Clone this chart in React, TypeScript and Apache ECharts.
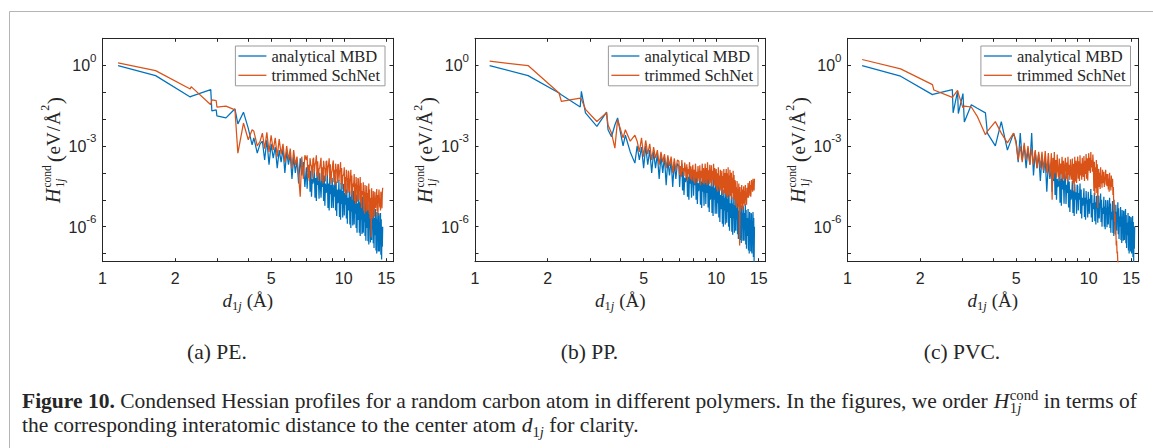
import React, { useEffect, useRef } from 'react';
import * as echarts from 'echarts';

// ---------------- data ----------------
const seriesNames = ['analytical MBD', 'trimmed SchNet'];
const panelLabels = ['(a) PE.', '(b) PP.', '(c) PVC.'];
const xLabelValues = [1, 2, 5, 10, 15];
const xTickValues = [2, 3, 4, 5, 6, 7, 8, 9, 10, 15];
const yLabelValues = [1e-6, 1e-3, 1];
const yTickValues = [1e-7, 1e-6, 1e-5, 1e-4, 1e-3, 1e-2, 1e-1, 1];

// (a) PE
const peDistance = [
  1.16, 1.66, 2.31, 2.33, 2.81, 2.84, 2.96, 2.98, 3.25, 3.54, 3.64, 3.84, 4.02, 4.17, 4.24, 4.38, 4.5,
  4.6, 4.7, 4.8, 4.9, 5.0, 5.1, 5.2, 5.3, 5.4, 5.5, 5.6, 5.7, 5.8, 5.9, 6.0, 6.1, 6.2, 6.3, 6.4, 6.5, 6.6, 6.7, 6.8, 6.9,
  7.0, 7.05, 7.1, 7.15, 7.2, 7.25, 7.3, 7.35, 7.4, 7.45,
  7.5, 7.55, 7.6, 7.65, 7.7, 7.75, 7.8, 7.85, 7.9, 7.95,
  8.0, 8.05, 8.1, 8.15, 8.2, 8.25, 8.3, 8.35, 8.4, 8.45,
  8.5, 8.55, 8.6, 8.65, 8.7, 8.75, 8.8, 8.85, 8.9, 8.95,
  9.0, 9.05, 9.1, 9.15, 9.2, 9.25, 9.3, 9.35, 9.4, 9.45,
  9.5, 9.55, 9.6, 9.65, 9.7, 9.75, 9.8, 9.85, 9.9, 9.95,
  10.0, 10.05, 10.1, 10.15, 10.2, 10.25, 10.3, 10.35, 10.4, 10.45,
  10.5, 10.55, 10.6, 10.65, 10.7, 10.75, 10.8, 10.85, 10.9, 10.95,
  11.0, 11.05, 11.1, 11.15, 11.2, 11.25, 11.3, 11.35, 11.4, 11.45,
  11.5, 11.55, 11.6, 11.65, 11.7, 11.75, 11.8, 11.85, 11.9, 11.95,
  12.0, 12.05, 12.1, 12.15, 12.2, 12.25, 12.3, 12.35, 12.4, 12.45,
  12.5, 12.55, 12.6, 12.65, 12.7, 12.75, 12.8, 12.85, 12.9, 12.95,
  13.0, 13.05, 13.1, 13.15, 13.2, 13.25, 13.3, 13.35, 13.4, 13.45,
  13.5, 13.55, 13.6, 13.65, 13.7, 13.75, 13.8, 13.85, 13.9, 13.95,
  14.0, 14.05, 14.1, 14.15, 14.2, 14.25, 14.3, 14.35, 14.4, 14.45,
  14.5,
];
const peMBD = [
  0.97, 0.41, 0.066, 0.07, 0.124, 0.02, 0.022, 0.013, 0.011, 0.024, 0.0066, 0.018, 0.0045, 0.0011, 0.002, 5.4e-4, 1.2e-3,
  1.5e-3, 3e-4, 1.7e-3, 2e-4, 1.2e-3, 3.5e-4, 9e-4, 1.5e-4, 7e-4, 2.5e-4,
  8e-4, 1e-4, 6e-4, 2e-4, 5e-4, 6e-5, 4e-4, 1e-4, 3e-4, 4e-5,
  3.5e-4, 8e-5, 2.5e-4, 3e-5,
  1.6e-4, 2.6e-5, 9e-5, 6.5e-5, 2e-4, 2e-5, 1.2e-4, 1.3e-5, 6e-5, 4e-5,
  5.4e-5, 1.4e-4, 1.2e-5, 6.4e-5, 9e-6, 1.1e-4, 3.6e-5, 5.6e-5, 1.1e-5, 1e-4,
  1e-4, 1.2e-5, 6e-5, 3e-5, 1.3e-4, 9e-6, 8e-5, 6e-6, 4e-5, 1.8e-5,
  2.4e-5, 9e-5, 5e-6, 4e-5, 4e-6, 7e-5, 1.6e-5, 3.5e-5, 5e-6, 6.5e-5,
  6.4e-5, 5e-6, 3.6e-5, 1.3e-5, 8e-5, 4e-6, 4.8e-5, 2.5e-6, 2.4e-5, 7.5e-6,
  1.1e-5, 5.4e-5, 2.3e-6, 2.4e-5, 1.8e-6, 4.2e-5, 7e-6, 2.1e-5, 2.2e-6, 3.9e-5,
  3.2e-5, 2.6e-6, 1.8e-5, 6.5e-6, 4e-5, 2e-6, 2.4e-5, 1.3e-6, 1.2e-5, 4e-6,
  5.4e-6, 2.9e-5, 1.2e-6, 1.3e-5, 9e-7, 2.2e-5, 3.6e-6, 1.1e-5, 1.1e-6, 2.1e-5,
  2e-5, 1.2e-6, 1.1e-5, 3e-6, 2.5e-5, 9e-7, 1.5e-5, 6e-7, 7.5e-6, 1.8e-6,
  2.7e-6, 1.8e-5, 6e-7, 8e-6, 4.5e-7, 1.4e-5, 1.8e-6, 7e-6, 5.4e-7, 1.3e-5,
  1.1e-5, 6e-7, 6.3e-6, 1.5e-6, 1.4e-5, 4.5e-7, 8.4e-6, 3e-7, 4.2e-6, 9e-7,
  1.3e-6, 9e-6, 2.9e-7, 4e-6, 2.2e-7, 7e-6, 9e-7, 3.5e-6, 2.6e-7, 6.5e-6,
  5.6e-6, 3.2e-7, 3.2e-6, 8e-7, 7e-6, 2.4e-7, 4.2e-6, 1.6e-7, 2.1e-6, 4.8e-7,
  6e-7, 4.5e-6, 1.3e-7, 2e-6, 1e-7, 3.5e-6, 4e-7, 1.8e-6, 1.2e-7, 3.2e-6,
  2.6e-6, 1.2e-7, 1.4e-6, 3e-7, 3.2e-6, 9e-8, 1.9e-6, 6e-8, 1e-6, 1.8e-7,
  1e-6,
];
const peSchNet = [
  1.23, 0.63, 0.13, 0.16, 0.034, 0.052, 0.048, 0.028, 0.03, 0.022, 5.4e-4, 0.0071, 1.7e-3, 4e-3, 3.5e-3, 1e-3, 1.5e-3,
  3e-3, 8e-4, 3.2e-3, 6e-4, 2.5e-3, 7e-4, 2e-3, 4e-4, 1.8e-3, 5e-4,
  1.2e-3, 2.5e-4, 1e-3, 3e-4, 8e-4, 1.5e-4, 7e-4, 2e-4, 4e-4, 8e-5,
  1.3e-5, 4e-4, 6e-5, 4.5e-4,
  3e-4, 4.5e-4, 6.5e-5, 2e-4, 5e-5, 3.5e-4, 2e-4, 1.8e-4, 6e-5, 3.2e-4,
  3.6e-4, 1e-4, 2e-4, 2.5e-4, 4.5e-4, 7.5e-5, 2.7e-4, 5e-5, 1.4e-4, 1.5e-4,
  2.4e-4, 3.6e-4, 5e-5, 1.6e-4, 4e-5, 2.8e-4, 1.6e-4, 1.4e-4, 4.8e-5, 2.6e-4,
  2.8e-4, 8e-5, 1.6e-4, 2e-4, 3.5e-4, 6e-5, 2.1e-4, 4e-5, 1e-4, 1.2e-4,
  2.1e-4, 2.9e-4, 4.5e-5, 1.3e-4, 3.5e-5, 2.2e-4, 1.4e-4, 1.1e-4, 4.2e-5, 2.1e-4,
  2e-4, 5e-5, 1.1e-4, 1.25e-4, 2.5e-4, 3.8e-5, 1.5e-4, 2.5e-5, 7.5e-5, 7.5e-5,
  9e-5, 1.6e-4, 2e-5, 7e-5, 1.5e-5, 1.3e-4, 6e-5, 6.3e-5, 1.8e-5, 1.2e-4,
  1e-4, 2e-5, 6e-5, 5e-5, 1.3e-4, 1.5e-5, 8e-5, 1e-5, 4e-5, 3e-5,
  4.2e-5, 9e-5, 9e-6, 4e-5, 7e-6, 7e-5, 2.8e-5, 3.5e-5, 8.4e-6, 6.5e-5,
  5.6e-5, 1e-5, 3.2e-5, 2.5e-5, 7e-5, 7.5e-6, 4.2e-5, 5e-6, 2.1e-5, 1.5e-5,
  1.8e-5, 4.5e-5, 3.9e-6, 2e-5, 3e-6, 3.5e-5, 1.2e-5, 1.8e-5, 3.6e-6, 3.3e-5,
  3.2e-5, 4e-6, 1.8e-5, 1e-5, 4e-5, 3e-6, 2.4e-5, 2e-6, 1.2e-5, 6e-6,
  4e-7, 2.7e-5, 2.6e-6, 1.2e-5, 2e-6, 2.1e-5, 8e-6, 1e-5, 2.4e-6, 2e-5,
  2e-5, 5e-6, 1.1e-5, 1.2e-5, 2.5e-5, 3.8e-6, 1.5e-5, 2.5e-6, 7.5e-6, 7.5e-6,
  2.4e-5, 2.5e-5, 5.2e-6, 1.1e-5, 4e-6, 2e-5, 1.6e-5, 1e-5, 4.8e-6, 1.8e-5,
  2.8e-5,
];

// (b) PP
const ppDistance = [
  1.15, 1.66, 2.23, 2.28, 2.73, 2.76, 2.87, 3.2, 3.51, 3.56, 3.68, 3.8, 3.9, 4.11, 4.2, 4.4, 4.6,
  4.7, 4.8, 4.9, 5.0, 5.1, 5.2, 5.3, 5.4, 5.5, 5.6, 5.7, 5.8, 5.9, 6.0, 6.1, 6.2, 6.3, 6.4, 6.5, 6.6, 6.7, 6.8, 6.9,
  7.0, 7.05, 7.1, 7.15, 7.2, 7.25, 7.3, 7.35, 7.4, 7.45,
  7.5, 7.55, 7.6, 7.65, 7.7, 7.75, 7.8, 7.85, 7.9, 7.95,
  8.0, 8.05, 8.1, 8.15, 8.2, 8.25, 8.3, 8.35, 8.4, 8.45,
  8.5, 8.55, 8.6, 8.65, 8.7, 8.75, 8.8, 8.85, 8.9, 8.95,
  9.0, 9.05, 9.1, 9.15, 9.2, 9.25, 9.3, 9.35, 9.4, 9.45,
  9.5, 9.55, 9.6, 9.65, 9.7, 9.75, 9.8, 9.85, 9.9, 9.95,
  10.0, 10.05, 10.1, 10.15, 10.2, 10.25, 10.3, 10.35, 10.4, 10.45,
  10.5, 10.55, 10.6, 10.65, 10.7, 10.75, 10.8, 10.85, 10.9, 10.95,
  11.0, 11.05, 11.1, 11.15, 11.2, 11.25, 11.3, 11.35, 11.4, 11.45,
  11.5, 11.55, 11.6, 11.65, 11.7, 11.75, 11.8, 11.85, 11.9, 11.95,
  12.0, 12.05, 12.1, 12.15, 12.2, 12.25, 12.3, 12.35, 12.4, 12.45,
  12.5, 12.55, 12.6, 12.65, 12.7, 12.75, 12.8, 12.85, 12.9, 12.95,
  13.0, 13.05, 13.1, 13.15, 13.2, 13.25, 13.3, 13.35, 13.4, 13.45,
  13.5, 13.55, 13.6, 13.65, 13.7, 13.75, 13.8, 13.85, 13.9, 13.95,
  14.0, 14.05, 14.1, 14.15, 14.2, 14.25, 14.3, 14.35, 14.4,
];
const ppMBD = [
  0.97, 0.41, 0.093, 0.08, 0.028, 0.107, 0.017, 0.0053, 0.018, 0.004, 0.0022, 0.006, 0.011, 0.001, 0.0025, 6e-4, 2.3e-4,
  1e-3, 3e-4, 9e-4, 1.5e-4, 1e-3, 2e-4, 7e-4, 1e-4, 6e-4, 1.5e-4,
  5e-4, 6e-5, 4.5e-4, 1e-4, 4e-4, 3.5e-5, 3e-4, 8e-5, 3e-4, 3e-5,
  2.5e-4, 6e-5, 2.2e-4,
  1.8e-4, 3e-5, 1e-4, 7.5e-5, 2.2e-4, 2.2e-5, 1.3e-4, 1.5e-5, 6.6e-5, 4.5e-5,
  6e-5, 1.6e-4, 1.3e-5, 7.2e-5, 1e-5, 1.3e-4, 4e-5, 6.3e-5, 1.2e-5, 1.2e-4,
  1.1e-4, 1.4e-5, 6.3e-5, 3.5e-5, 1.4e-4, 1e-5, 8.4e-5, 7e-6, 4.2e-5, 2.1e-5,
  3e-5, 1.1e-4, 6.5e-6, 4.8e-5, 5e-6, 8.4e-5, 2e-5, 4.2e-5, 6e-6, 7.8e-5,
  8.8e-5, 7e-6, 5e-5, 1.8e-5, 1.1e-4, 5.2e-6, 6.6e-5, 3.5e-6, 3.3e-5, 1e-5,
  1.5e-5, 7.2e-5, 3.2e-6, 3.2e-5, 2.5e-6, 5.6e-5, 1e-5, 2.8e-5, 3e-6, 5.2e-5,
  4e-5, 3e-6, 2.2e-5, 7.5e-6, 5e-5, 2.2e-6, 3e-5, 1.5e-6, 1.5e-5, 4.5e-6,
  6e-6, 3.2e-5, 1.3e-6, 1.4e-5, 1e-6, 2.4e-5, 4e-6, 1.2e-5, 1.2e-6, 2.3e-5,
  2e-5, 1.4e-6, 1.1e-5, 3.5e-6, 2.5e-5, 1e-6, 1.5e-5, 7e-7, 7.5e-6, 2.1e-6,
  3e-6, 1.6e-5, 6.5e-7, 7.2e-6, 5e-7, 1.3e-5, 2e-6, 6.3e-6, 6e-7, 1.2e-5,
  1e-5, 7e-7, 5.8e-6, 1.8e-6, 1.3e-5, 5.2e-7, 7.8e-6, 3.5e-7, 3.9e-6, 1e-6,
  1.5e-6, 8e-6, 3.2e-7, 3.6e-6, 2.5e-7, 6.3e-6, 1e-6, 3.2e-6, 3e-7, 5.8e-6,
  5.6e-6, 3e-7, 3.2e-6, 7.5e-7, 7e-6, 2.2e-7, 4.2e-6, 1.5e-7, 2.1e-6, 4.5e-7,
  6e-7, 4.5e-6, 1.3e-7, 2e-6, 1e-7, 3.5e-6, 4e-7, 1.8e-6, 1.2e-7, 3.2e-6,
  2.8e-6, 1e-7, 1.6e-6, 2.5e-7, 3.5e-6, 7.5e-8, 2.1e-6, 5e-8, 1e-6,
];
const ppSchNet = [
  1.41, 0.97, 0.093, 0.045, 0.06, 0.055, 0.023, 0.0081, 0.017, 0.006, 0.003, 8.3e-4, 0.0094, 0.002, 0.004, 1.5e-3, 2.5e-3,
  1.5e-3, 6e-4, 2e-3, 4e-4, 1.6e-3, 5e-4, 1.2e-3, 3e-4, 9e-4, 3.5e-4,
  7e-4, 2e-4, 6e-4, 2.5e-4, 5e-4, 1.5e-4, 4.5e-4, 1.8e-4, 4e-4, 1e-4,
  3.5e-4, 1.2e-4, 3e-4,
  2.7e-4, 8.4e-5, 1.8e-4, 7e-5, 3e-4, 1.1e-4, 1.5e-4, 7.7e-5, 2.4e-4, 1.4e-4,
  7e-5, 2.1e-4, 5e-5, 1.4e-4, 9e-5, 2.5e-4, 6e-5, 1.75e-4, 5.2e-5, 1.1e-4,
  2e-4, 4.8e-5, 1.3e-4, 4e-5, 2.2e-4, 6.4e-5, 1.1e-4, 4.4e-5, 1.8e-4, 8e-5,
  4.9e-5, 1.9e-4, 3.5e-5, 1.2e-4, 6.3e-5, 2.2e-4, 4.2e-5, 1.5e-4, 3.7e-5, 1e-4,
  2.2e-4, 4.2e-5, 1.5e-4, 3.5e-5, 2.5e-4, 5.6e-5, 1.25e-4, 3.9e-5, 2e-4, 7e-5,
  4.2e-5, 1.9e-4, 3e-5, 1.2e-4, 5.4e-5, 2.2e-4, 3.6e-5, 1.5e-4, 3.2e-5, 1e-4,
  1.4e-4, 2.4e-5, 9.6e-5, 2e-5, 1.6e-4, 3.2e-5, 8e-5, 2.2e-5, 1.3e-4, 4e-5,
  2.1e-5, 1.2e-4, 1.5e-5, 7.7e-5, 2.7e-5, 1.4e-4, 1.8e-5, 9.8e-5, 1.6e-5, 6.3e-5,
  1.4e-4, 1.4e-5, 9.6e-5, 1.2e-5, 1.6e-4, 1.9e-5, 8e-5, 1.3e-5, 1.3e-4, 2.4e-5,
  1.4e-5, 1e-4, 1e-5, 6.6e-5, 1.8e-5, 1.2e-4, 1.2e-5, 8.4e-5, 1e-5, 5.4e-5,
  4.5e-5, 6e-6, 3e-5, 5e-6, 5e-5, 8e-6, 2.5e-5, 5.5e-6, 4e-5, 1e-5,
  2e-7, 3e-5, 4e-6, 1.9e-5, 7.2e-6, 3.5e-5, 4.8e-6, 2.4e-5, 4.2e-6, 1.6e-5,
  3.2e-5, 7.2e-6, 2.1e-5, 6e-6, 3.5e-5, 9.6e-6, 1.8e-5, 6.6e-6, 2.8e-5, 1.2e-5,
  1.7e-5, 4.2e-5, 1.2e-5, 2.8e-5, 2.2e-5, 5e-5, 1.4e-5, 3.5e-5, 1.3e-5, 2.2e-5,
  5.4e-5, 2.4e-5, 3.6e-5, 2e-5, 6e-5, 3.2e-5, 3e-5, 2.2e-5, 6e-5,
];

// (c) PVC
const pvcDistance = [
  1.15, 1.66, 2.25, 2.28, 2.72, 2.74, 2.86, 2.88, 3.01, 3.05, 3.26, 3.45, 3.73, 3.8, 4.1, 4.34, 4.6, 4.88,
  5.0, 5.1, 5.2, 5.3, 5.4, 5.5, 5.6, 5.7, 5.8, 5.9, 6.0, 6.1, 6.2, 6.3, 6.4, 6.5, 6.6, 6.7, 6.8, 6.9,
  7.0, 7.05, 7.1, 7.15, 7.2, 7.25, 7.3, 7.35, 7.4, 7.45,
  7.5, 7.55, 7.6, 7.65, 7.7, 7.75, 7.8, 7.85, 7.9, 7.95,
  8.0, 8.05, 8.1, 8.15, 8.2, 8.25, 8.3, 8.35, 8.4, 8.45,
  8.5, 8.55, 8.6, 8.65, 8.7, 8.75, 8.8, 8.85, 8.9, 8.95,
  9.0, 9.05, 9.1, 9.15, 9.2, 9.25, 9.3, 9.35, 9.4, 9.45,
  9.5, 9.55, 9.6, 9.65, 9.7, 9.75, 9.8, 9.85, 9.9, 9.95,
  10.0, 10.05, 10.1, 10.15, 10.2, 10.25, 10.3, 10.35, 10.4, 10.45,
  10.5, 10.55, 10.6, 10.65, 10.7, 10.75, 10.8, 10.85, 10.9, 10.95,
  11.0, 11.05, 11.1, 11.15, 11.2, 11.25, 11.3, 11.35, 11.4, 11.45,
  11.5, 11.55, 11.6, 11.65, 11.7, 11.75, 11.8, 11.85, 11.9, 11.95,
  12.0, 12.05, 12.1, 12.15, 12.2, 12.25, 12.3, 12.35, 12.4, 12.45,
  12.5, 12.55, 12.6, 12.65, 12.7, 12.75, 12.8, 12.85, 12.9, 12.95,
  13.0, 13.05, 13.1, 13.15, 13.2, 13.25, 13.3, 13.35, 13.4, 13.45,
  13.5, 13.55, 13.6, 13.65, 13.7, 13.75, 13.8, 13.85, 13.9, 13.95,
  14.0, 14.05, 14.1, 14.15, 14.2, 14.25, 14.3, 14.35, 14.4, 14.45,
  14.5, 14.55, 14.6, 14.65, 14.7, 14.75, 14.8, 14.85, 14.9, 14.95,
  15.0, 15.05, 15.1, 15.15, 15.2, 15.25, 15.3, 15.35, 15.4, 15.45,
  15.5,
];
const pvcMBD = [
  0.97, 0.39, 0.081, 0.085, 0.124, 0.017, 0.11, 0.016, 0.088, 0.0077, 0.034, 0.025, 0.017, 0.003, 0.001, 0.008, 7e-4, 3e-3,
  1.5e-3, 2.5e-4, 3e-3, 3e-4, 1e-3, 1.5e-4, 8e-4, 2e-4, 3e-3, 8e-5,
  6e-4, 1.5e-4, 5e-4, 5e-5, 4e-4, 1e-4, 3.5e-4, 2e-5, 2.5e-4, 6e-5,
  1.6e-4, 2e-5, 9e-5, 5e-5, 2e-4, 1.5e-5, 1.2e-4, 1e-5, 6e-5, 3e-5,
  3.6e-5, 1.35e-4, 7.8e-6, 6e-5, 6e-6, 1e-4, 2.4e-5, 5.2e-5, 7.2e-6, 9.8e-5,
  6.4e-5, 7e-6, 3.6e-5, 1.8e-5, 8e-5, 5.2e-6, 4.8e-5, 3.5e-6, 2.4e-5, 1e-5,
  1.5e-5, 5e-5, 3.2e-6, 2.2e-5, 2.5e-6, 3.8e-5, 1e-5, 1.9e-5, 3e-6, 3.6e-5,
  3.2e-5, 4e-6, 1.8e-5, 1e-5, 4e-5, 3e-6, 2.4e-5, 2e-6, 1.2e-5, 6e-6,
  1.1e-5, 2.7e-5, 2.3e-6, 1.2e-5, 1.8e-6, 2.1e-5, 7.2e-6, 1e-5, 2.2e-6, 2e-5,
  2e-5, 3e-6, 1.1e-5, 7.5e-6, 2.5e-5, 2.2e-6, 1.5e-5, 1.5e-6, 7.5e-6, 4.5e-6,
  7.2e-6, 1.8e-5, 1.6e-6, 8e-6, 1.2e-6, 1.4e-5, 4.8e-6, 7e-6, 1.4e-6, 1.3e-5,
  1.4e-5, 2e-6, 7.6e-6, 5e-6, 1.7e-5, 1.5e-6, 1e-5, 1e-6, 5e-6, 3e-6,
  4.8e-6, 1.3e-5, 1e-6, 5.6e-6, 8e-7, 9.8e-6, 3.2e-6, 4.9e-6, 9.6e-7, 9e-6,
  9.6e-6, 1.2e-6, 5.4e-6, 3e-6, 1.2e-5, 9e-7, 7.2e-6, 6e-7, 3.6e-6, 1.8e-6,
  2.7e-6, 9e-6, 5.8e-7, 4e-6, 4.5e-7, 7e-6, 1.8e-6, 3.5e-6, 5.4e-7, 6.5e-6,
  6.4e-6, 7e-7, 3.6e-6, 1.8e-6, 8e-6, 5.2e-7, 4.8e-6, 3.5e-7, 2.4e-6, 1e-6,
  1.5e-6, 5.4e-6, 3.2e-7, 2.4e-6, 2.5e-7, 4.2e-6, 1e-6, 2.1e-6, 3e-7, 3.9e-6,
  3.6e-6, 3.2e-7, 2e-6, 8e-7, 4.5e-6, 2.4e-7, 2.7e-6, 1.6e-7, 1.4e-6, 4.8e-7,
  6e-7, 3.2e-6, 1.3e-7, 1.4e-6, 1e-7, 2.5e-6, 4e-7, 1.2e-6, 1.2e-7, 2.3e-6,
  2e-6, 1e-7, 1.1e-6, 2.5e-7, 2.5e-6, 7.5e-8, 1.5e-6, 5e-8, 7.5e-7, 1.5e-7,
  1e-6,
];
const pvcSchNet = [
  1.63, 0.73, 0.19, 0.12, 0.064, 0.07, 0.115, 0.09, 0.026, 0.03, 0.028, 0.0126, 2.6e-3, 3.5e-3, 8e-3, 3e-3, 1.3e-3, 3e-3,
  1.2e-3, 3e-4, 1e-3, 2.5e-4, 1.3e-3, 3e-4, 1e-3, 2e-4, 8e-4, 2e-4,
  7e-4, 1.5e-4, 6e-4, 1.5e-4, 6e-4, 1.2e-4, 6.5e-4, 1e-4, 5.5e-4, 8e-5,
  5.4e-4, 1e-5, 3.6e-4, 6e-5, 6e-4, 9.6e-5, 3e-4, 6.6e-5, 4.8e-4, 1.2e-4,
  7e-5, 3.4e-4, 5e-5, 2.2e-4, 9e-5, 4e-4, 6e-5, 2.8e-4, 5.2e-5, 1.8e-4,
  3.6e-4, 6e-5, 2.4e-4, 5e-5, 4e-4, 8e-5, 2e-4, 5.5e-5, 3.2e-4, 1e-4,
  5.6e-5, 3.4e-4, 4e-5, 2.2e-4, 2e-5, 4e-4, 4.8e-5, 2.8e-4, 4.2e-5, 1.8e-4,
  4e-4, 6e-5, 2.7e-4, 5e-5, 4.5e-4, 8e-5, 2.2e-4, 5.5e-5, 3.6e-4, 1e-4,
  7e-5, 4.2e-4, 5e-5, 2.8e-4, 9e-5, 5e-4, 6e-5, 3.5e-4, 5.2e-5, 2.2e-4,
  5.4e-4, 1.2e-4, 3.6e-4, 1e-4, 6e-4, 1.6e-4, 3e-4, 1.1e-4, 4.8e-4, 2e-4,
  2.1e-5, 2.6e-4, 1.5e-5, 1.6e-4, 2.7e-5, 3e-4, 1.8e-5, 2.1e-4, 5e-6, 1.3e-4,
  1.4e-4, 3e-5, 1e-4, 2.5e-5, 1.6e-4, 4e-5, 8e-5, 2.8e-5, 1.3e-4, 5e-5,
  4.2e-5, 1.1e-4, 3e-5, 7e-5, 5.4e-5, 1.3e-4, 3.6e-5, 9e-5, 3.2e-5, 6e-5,
  9e-5, 2.4e-5, 6e-5, 2e-5, 1e-4, 3.2e-5, 5e-5, 2.2e-5, 8e-5, 4e-5,
  3e-5, 6e-5, 1.5e-5, 3e-5, 4e-6, 1e-5, 1.5e-6, 3e-6, 5e-7, 8e-7,
  2e-7, 3e-7, 1e-7, 1.2e-7, 4e-8, 5e-8, 1e-8,
];

const panels = [
  { dist: peDistance, mbd: peMBD, schnet: peSchNet },
  { dist: ppDistance, mbd: ppMBD, schnet: ppSchNet },
  { dist: pvcDistance, mbd: pvcMBD, schnet: pvcSchNet },
];

// ---------------- layout / style ----------------
const BLUE = '#0072BD';
const ORANGE = '#D95319';
const INK = '#262626';
const SANS = '"Liberation Sans", Arial, sans-serif';
const SERIF = '"Liberation Serif", "Times New Roman", serif';
const GRID_LEFT = [102.5, 475, 847.5];
const GRID_TOP = 38.3;
const GRID_W = 290.5;
const GRID_H = 223.4;
const LEGEND_RIGHT = [768, 395, 22.5];
const CAPTION_CENTER = [217, 589.5, 962];
const LINE_W = 1.25;

type Part = { t: string; size: number; italic?: boolean; bold?: boolean };
type Seg = { parts: Part[]; dy?: number; gap?: number } | { stack: { parts: Part[]; dy: number }[]; gap?: number };

let mctx: CanvasRenderingContext2D | null = null;
function fontStr(p: Part, k: number) {
  return `${p.italic ? 'italic ' : ''}${p.bold ? 'bold ' : ''}${(p.size * k).toFixed(2)}px ${SERIF}`;
}
function measure(p: Part, k: number) {
  if (!mctx) mctx = document.createElement('canvas').getContext('2d');
  mctx!.font = fontStr(p, k);
  return mctx!.measureText(p.t).width;
}
function textEl(p: Part, k: number, x: number, baseline: number) {
  const size = p.size * k;
  return {
    type: 'text',
    x,
    y: baseline - 0.34 * size,
    silent: true,
    style: { text: p.t, font: fontStr(p, k), fill: INK, textAlign: 'left', textVerticalAlign: 'middle' },
  };
}
function layoutRun(segs: Seg[], k: number, baseline: number) {
  const els: any[] = [];
  let x = 0;
  for (const s of segs) {
    if ('stack' in s) {
      let w = 0;
      for (const row of s.stack) {
        let rx = x;
        for (const p of row.parts) {
          els.push(textEl(p, k, rx, baseline + row.dy * k));
          rx += measure(p, k);
        }
        w = Math.max(w, rx - x);
      }
      x += w;
    } else {
      for (const p of s.parts) {
        els.push(textEl(p, k, x, baseline + (s.dy || 0) * k));
        x += measure(p, k);
      }
    }
    x += (s.gap || 0) * k;
  }
  return { els, width: x };
}
function shift(els: any[], dx: number) {
  els.forEach((e) => (e.x += dx));
  return els;
}

function buildGraphics() {
  const g: any[] = [];
  g.push({ type: 'line', silent: true, shape: { x1: 9.5, y1: 11.5, x2: 1153, y2: 11.5 }, style: { stroke: '#b4b4b4', lineWidth: 1 } });
  g.push({ type: 'line', silent: true, shape: { x1: 9.5, y1: 11.5, x2: 9.5, y2: 448 }, style: { stroke: '#b4b4b4', lineWidth: 1 } });

  for (let i = 0; i < 3; i++) {
    const cx = GRID_LEFT[i] + GRID_W / 2;
    const xn = layoutRun(
      [
        { parts: [{ t: 'd', size: 19, italic: true }] },
        { parts: [{ t: '1', size: 12.5 }, { t: 'j', size: 12.5, italic: true }], dy: 3.5, gap: 5 },
        { parts: [{ t: '(', size: 19 }, { t: 'Å', size: 19 }, { t: ')', size: 19 }] },
      ],
      1,
      307
    );
    g.push(...shift(xn.els, cx - xn.width / 2));
    const yn = layoutRun(
      [
        { parts: [{ t: 'H', size: 20, italic: true }], gap: 1 },
        {
          stack: [
            { parts: [{ t: 'cond', size: 11.5 }], dy: -8.5 },
            { parts: [{ t: '1', size: 11.5 }, { t: 'j', size: 11.5, italic: true }], dy: 4 },
          ],
          gap: 3,
        },
        { parts: [{ t: '(', size: 22 }], dy: 2.5, gap: 0.5 },
        { parts: [{ t: 'eV', size: 19 }], gap: 1 },
        { parts: [{ t: '/', size: 19 }], gap: 1 },
        { parts: [{ t: 'Å', size: 19 }], gap: 0.5 },
        { parts: [{ t: '2', size: 12 }], dy: -10, gap: 0.5 },
        { parts: [{ t: ')', size: 22 }], dy: 2.5 },
      ],
      1,
      0
    );
    g.push({
      type: 'group',
      x: GRID_LEFT[i] - 43,
      y: GRID_TOP + GRID_H / 2 + yn.width / 2,
      rotation: Math.PI / 2,
      children: yn.els,
    });
  }

  const line1: Seg[] = [
    { parts: [{ t: 'Figure 10.', size: 20.5, bold: true }] },
    { parts: [{ t: ' Condensed Hessian profiles for a random carbon atom in different polymers. In the figures, we order ', size: 20.5 }] },
    { parts: [{ t: 'H', size: 20.5, italic: true }], gap: 0.5 },
    {
      stack: [
        { parts: [{ t: 'cond', size: 14 }], dy: -8.5 },
        { parts: [{ t: '1', size: 14 }, { t: 'j', size: 14, italic: true }], dy: 5 },
      ],
    },
    { parts: [{ t: ' in terms of', size: 20.5 }] },
  ];
  const line2: Seg[] = [
    { parts: [{ t: 'the corresponding interatomic distance to the center atom ', size: 20.5 }] },
    { parts: [{ t: 'd', size: 20.5, italic: true }] },
    { parts: [{ t: '1', size: 14 }, { t: 'j', size: 14, italic: true }], dy: 5 },
    { parts: [{ t: ' for clarity.', size: 20.5 }] },
  ];
  const l1 = layoutRun(line1, 1, 408);
  const sx = 1115 / l1.width;
  g.push({ type: 'group', x: 22, y: 0, scaleX: sx, children: l1.els });
  g.push({ type: 'group', x: 22, y: 0, scaleX: sx, children: layoutRun(line2, 1, 432).els });
  for (let i = 0; i < 3; i++) {
    const sc = layoutRun([{ parts: [{ t: panelLabels[i], size: 20.5 }] }], 1, 359);
    g.push({ type: 'group', x: CAPTION_CENTER[i] - (sc.width * sx) / 2, y: 0, scaleX: sx, children: sc.els });
  }
  return g;
}

function buildOption() {
  const axisLine = { show: true, lineStyle: { color: INK, width: 1 } };
  const grid: any[] = [];
  const xAxis: any[] = [];
  const yAxis: any[] = [];
  const series: any[] = [];
  const legend: any[] = [];
  panels.forEach((p, i) => {
    grid.push({ left: GRID_LEFT[i], top: GRID_TOP, width: GRID_W, height: GRID_H });
    const xBase = {
      type: 'log', logBase: 10, gridIndex: i, min: 1, max: 16,
      axisLine, splitLine: { show: false }, minorTick: { show: false },
      axisTick: { show: true, inside: true, length: 3.5, lineStyle: { color: INK, width: 1 }, customValues: xTickValues },
    };
    xAxis.push({
      ...xBase, position: 'bottom',
      axisLabel: {
        show: true, customValues: xLabelValues, margin: 9, fontSize: 16, fontFamily: SANS, color: INK,
        formatter: (v: number) => String(Math.round(v)),
      },
    });
    xAxis.push({ ...xBase, position: 'top', axisLabel: { show: false } });
    const yBase = {
      type: 'log', logBase: 10, gridIndex: i, min: 5e-8, max: 10,
      axisLine, splitLine: { show: false }, minorTick: { show: false },
      axisTick: { show: true, inside: true, length: 3.5, lineStyle: { color: INK, width: 1 }, customValues: yTickValues },
    };
    yAxis.push({
      ...yBase, position: 'left',
      axisLabel: {
        show: true, customValues: yLabelValues, margin: 6, color: INK,
        formatter: (v: number) => `{b|10}{s|${Math.round(Math.log10(v))}}`,
        rich: {
          b: { fontSize: 16, fontFamily: SANS, color: INK, lineHeight: 17, verticalAlign: 'bottom' },
          s: { fontSize: 11.5, fontFamily: SANS, color: INK, lineHeight: 12, padding: [0, 0, 10, 0], verticalAlign: 'bottom' },
        },
      },
    });
    yAxis.push({ ...yBase, position: 'right', axisLabel: { show: false } });
    const pairs = (vals: number[]) => vals.map((v, j) => [p.dist[j], v]);
    series.push({
      name: seriesNames[0], type: 'line', xAxisIndex: 2 * i, yAxisIndex: 2 * i,
      data: pairs(p.mbd), showSymbol: false, symbol: 'none', lineStyle: { color: BLUE, width: LINE_W }, itemStyle: { color: BLUE },
      clip: true, z: 2,
    });
    series.push({
      name: seriesNames[1], type: 'line', xAxisIndex: 2 * i, yAxisIndex: 2 * i,
      data: pairs(p.schnet), showSymbol: false, symbol: 'none', lineStyle: { color: ORANGE, width: LINE_W }, itemStyle: { color: ORANGE },
      clip: true, z: 3,
    });
    legend.push({
      orient: 'vertical', right: LEGEND_RIGHT[i], top: 46, data: seriesNames, selectedMode: false,
      icon: 'rect', itemWidth: 28, itemHeight: 1.3, itemGap: 2.3, padding: [1.5, 5, 2, 3],
      borderColor: '#9a9a9a', borderWidth: 1, backgroundColor: '#ffffff', z: 10,
      textStyle: { fontFamily: SERIF, fontSize: 16.5, color: INK, lineHeight: 17 },
    });
  });
  return {
    animation: false,
    backgroundColor: '#ffffff',
    grid, xAxis, yAxis, series, legend,
    graphic: buildGraphics(),
  };
}

export default function App() {
  const ref = useRef<HTMLDivElement>(null);
  useEffect(() => {
    if (!ref.current) return;
    const chart = echarts.init(ref.current, null, { renderer: 'svg' });
    chart.setOption(buildOption() as any);
    return () => chart.dispose();
  }, []);
  return (
    <div
      ref={ref}
      style={{ position: 'fixed', left: 0, top: 0, width: 1153, height: 448, background: '#fff' }}
    />
  );
}
